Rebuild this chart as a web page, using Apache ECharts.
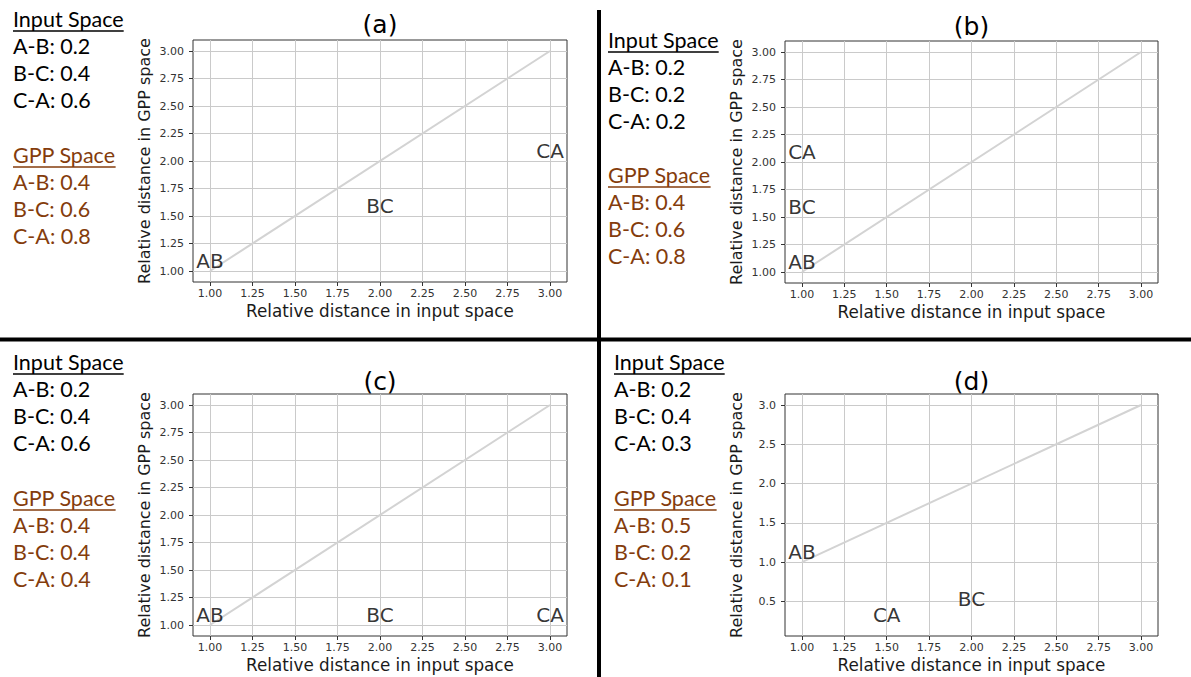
<!DOCTYPE html>
<html>
<head>
<meta charset="utf-8">
<script src="https://cdn.jsdelivr.net/npm/echarts@6/dist/echarts.min.js"></script>
<style>
html,body{margin:0;padding:0;background:#fff;}
#chart{width:1191px;height:677px;}
</style>
</head>
<body>
<div id="chart"></div>
<script>
// ---------- data ----------
const panelTitles = ['(a)', '(b)', '(c)', '(d)'];
const pairNames = ['A-B', 'B-C', 'C-A'];
const inputA = ['0.2', '0.4', '0.6'];
const gppA   = ['0.4', '0.6', '0.8'];
const inputB = ['0.2', '0.2', '0.2'];
const gppB   = ['0.4', '0.6', '0.8'];
const inputC = ['0.2', '0.4', '0.6'];
const gppC   = ['0.4', '0.4', '0.4'];
const inputD = ['0.2', '0.4', '0.3'];
const gppD   = ['0.5', '0.2', '0.1'];

const pointNames = ['AB', 'BC', 'CA'];
const xA = [1, 2, 3];     const yA = [1, 1.5, 2];
const xB = [1, 1, 1];     const yB = [1, 1.5, 2];
const xC = [1, 2, 3];     const yC = [1, 1, 1];
const xD = [1, 2, 1.5];   const yD = [1, 0.4, 0.2];
const diagX = [1, 3];     const diagY = [1, 3];

const xTicks  = [1.00, 1.25, 1.50, 1.75, 2.00, 2.25, 2.50, 2.75, 3.00];
const yTicks  = [1.00, 1.25, 1.50, 1.75, 2.00, 2.25, 2.50, 2.75, 3.00];
const yTicksD = [0.5, 1.0, 1.5, 2.0, 2.5, 3.0];

const xLabel = 'Relative distance in input space';
const yLabel = 'Relative distance in GPP space';

// ---------- layout ----------
const grids = [
  {left: 193, top: 40, width: 374, height: 242},
  {left: 785, top: 41, width: 373, height: 242},
  {left: 193, top: 394, width: 374, height: 242},
  {left: 785, top: 394, width: 373, height: 242}
];
const yRanges = [[0.9, 3.1], [0.9, 3.1], [0.9, 3.1], [0.06, 3.14]];
const yTickSets = [yTicks, yTicks, yTicks, yTicksD];
const yDecimals = [2, 2, 2, 1];
const titleY = [24, 26, 381, 381];
const blockX = [13, 608, 13, 614];
const blockInputBase = [27, 48, 370, 370];
const blockGppBase = [163, 183, 506, 506];
const pointsX = [xA, xB, xC, xD];
const pointsY = [yA, yB, yC, yD];
const inputs = [inputA, inputB, inputC, inputD];
const gpps = [gppA, gppB, gppC, gppD];

const BROWN = '#843C0C';
const LEFT_FONT = '21.5px Lato';

const mctx = document.createElement('canvas').getContext('2d');
function textW(t, font) { mctx.font = font; return mctx.measureText(t).width; }

const xAxes = [], yAxes = [], series = [], graphics = [];
grids.forEach((g, i) => {
  xAxes.push({
    type: 'value', gridIndex: i, min: 0.9, max: 3.1,
    name: xLabel, nameLocation: 'middle', nameGap: 20,
    nameTextStyle: {fontFamily: 'DejaVu Sans', fontSize: 16.8, color: '#1a1a1a'},
    axisLine: {show: false},
    axisTick: {show: true, inside: false, length: 4, lineStyle: {color: '#333', width: 1}, customValues: xTicks},
    axisLabel: {show: true, margin: 6, fontFamily: 'DejaVu Sans', fontSize: 11, color: '#333',
      customValues: xTicks, formatter: v => Number(v).toFixed(2)},
    splitLine: {show: true, lineStyle: {color: '#cacaca', width: 1}}
  });
  yAxes.push({
    type: 'value', gridIndex: i, min: yRanges[i][0], max: yRanges[i][1],
    name: yLabel, nameLocation: 'middle', nameGap: 41,
    nameTextStyle: {fontFamily: 'DejaVu Sans', fontSize: 16, color: '#1a1a1a'},
    axisLine: {show: false},
    axisTick: {show: true, inside: false, length: 4, lineStyle: {color: '#333', width: 1}, customValues: yTickSets[i]},
    axisLabel: {show: true, margin: 9, fontFamily: 'DejaVu Sans', fontSize: 11, color: '#333',
      customValues: yTickSets[i], formatter: (v => Number(v).toFixed(yDecimals[i]))},
    splitLine: {show: true, lineStyle: {color: '#cacaca', width: 1}}
  });
  series.push({
    type: 'line', xAxisIndex: i, yAxisIndex: i, symbol: 'none', silent: true,
    data: diagX.map((x, k) => [x, diagY[k]]),
    lineStyle: {color: '#d3d3d3', width: 2}, z: 2
  });
  series.push({
    type: 'scatter', xAxisIndex: i, yAxisIndex: i, symbolSize: 0, silent: true,
    data: pointNames.map((n, k) => ({name: n, value: [pointsX[i][k], pointsY[i][k]]})),
    label: {show: true, position: 'top', distance: 0, offset: [0, 4], formatter: p => p.name,
      fontFamily: 'DejaVu Sans', fontSize: 20, color: '#000'},
    labelLayout: {hideOverlap: false},
    z: 5
  });

  // title
  graphics.push({type: 'text', x: g.left + g.width / 2, y: titleY[i], silent: true,
    style: {text: panelTitles[i], font: '25px "DejaVu Sans"', fill: '#000',
      textAlign: 'center', textVerticalAlign: 'middle', align: 'center', verticalAlign: 'middle'}});

  // left text block
  const bx = blockX[i];
  const addLine = (txt, base, color, underline) => {
    graphics.push({type: 'text', x: bx, y: base - 7.8, silent: true,
      style: {text: txt, font: LEFT_FONT, fill: color,
        textAlign: 'left', textVerticalAlign: 'middle', align: 'left', verticalAlign: 'middle'}});
    if (underline) {
      const w = textW(txt, LEFT_FONT);
      graphics.push({type: 'line', silent: true,
        shape: {x1: bx, y1: base + 4, x2: bx + w, y2: base + 4},
        style: {stroke: color, lineWidth: 1.5}});
    }
  };
  addLine('Input Space', blockInputBase[i], '#000', true);
  pairNames.forEach((p, k) => addLine(p + ': ' + inputs[i][k], blockInputBase[i] + 27 * (k + 1), '#000', false));
  addLine('GPP Space', blockGppBase[i], BROWN, true);
  pairNames.forEach((p, k) => addLine(p + ': ' + gpps[i][k], blockGppBase[i] + 27 * (k + 1), BROWN, false));
});

// separators
graphics.push({type: 'rect', silent: true, shape: {x: 597, y: 10, width: 4, height: 667}, style: {fill: '#000'}});
graphics.push({type: 'rect', silent: true, shape: {x: 0, y: 337.5, width: 1191, height: 4}, style: {fill: '#000'}});

const option = {
  backgroundColor: '#fff',
  animation: false,
  grid: grids.map(g => Object.assign({show: true, borderColor: '#333', borderWidth: 1, backgroundColor: '#fff'}, g)),
  xAxis: xAxes,
  yAxis: yAxes,
  series: series,
  graphic: {elements: graphics}
};

const chart = echarts.init(document.getElementById('chart'), null, {renderer: 'svg'});
chart.setOption(option);
</script>
</body>
</html>
